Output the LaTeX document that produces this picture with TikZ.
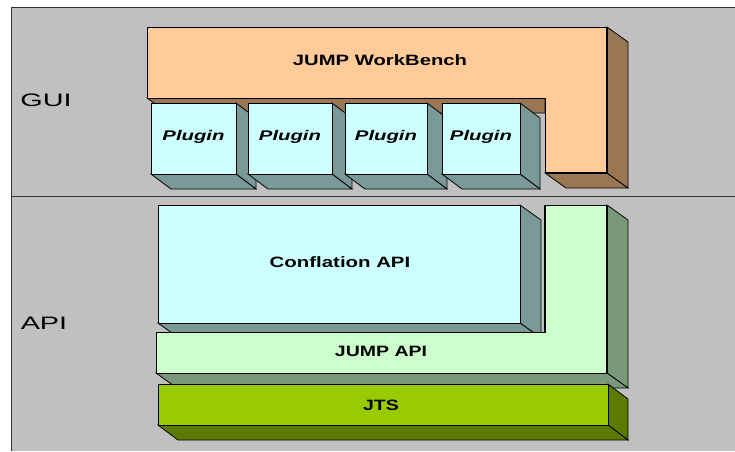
\documentclass[tikz,border=0pt]{standalone}
\usepackage{fontspec}
\usepackage{graphicx}
\newfontfamily\arialf{Liberation Sans}
\definecolor{bggray}{HTML}{C0C0C0}
\definecolor{wbfront}{HTML}{FFCC99}
\definecolor{wbside}{HTML}{997755}
\definecolor{cyfront}{HTML}{CCFFFF}
\definecolor{cyside}{HTML}{7A9999}
\definecolor{grfront}{HTML}{CCFFCC}
\definecolor{grside}{HTML}{7A997A}
\definecolor{jtsfront}{HTML}{99CC00}
\definecolor{jtsside}{HTML}{5C7A00}
\definecolor{edgegray}{HTML}{333333}
\tikzset{
  frontface/.style={line width=1pt, draw=black, line join=miter},
  sideface/.style={line width=0.8pt, draw=black, line join=miter},
  heavyedge/.style={line width=1.8pt, draw=black},
  boldlabel/.style={font=\arialf\bfseries\fontsize{15}{15}\selectfont, inner sep=0pt},
  pluginlabel/.style={font=\arialf\bfseries\itshape\fontsize{14}{14}\selectfont, inner sep=0pt},
  layerlabel/.style={font=\arialf\fontsize{18}{18}\selectfont, inner sep=0pt}
}
\begin{document}
\begin{tikzpicture}[x=1pt,y=-1pt]
\useasboundingbox (0,0) rectangle (735,451);
\fill[white] (0,0) rectangle (735,451);
% gray panel
\fill[bggray] (11,7) rectangle (735,451);
\draw[edgegray, line width=1pt] (11,451) -- (11,7) -- (735,7);
\draw[edgegray, line width=1pt] (11,196) -- (735,196);
\node[layerlabel] (gui) at (46,100) {\scalebox{1.6}[1]{GUI}};
\node[layerlabel] (api) at (44,323) {\scalebox{1.6}[1]{API}};

% JUMP WorkBench (L shape)
\filldraw[wbside, sideface] (147,98) -- (545,98) -- (545,113) -- (168,113) -- cycle;
\filldraw[wbside, sideface] (545,173) -- (607,173) -- (628,188) -- (566,188) -- cycle;
\filldraw[wbside, sideface] (607,27) -- (628,42) -- (628,188) -- (607,173) -- cycle;
\filldraw[wbfront, frontface] (147,27) -- (607,27) -- (607,173) -- (545,173) -- (545,98) -- (147,98) -- cycle;
\draw[heavyedge] (607,27) -- (607,173) -- (545,173);
\node[boldlabel] (wb) at (380,60) {\scalebox{1.35}[1]{JUMP WorkBench}};

% Plugins
\foreach \xa/\xb/\nm in {151/236/p1, 248/332/p2, 345/427/p3, 442/520/p4}{
  \filldraw[cyside, sideface] (\xb,103) -- (\xb+20,118) -- (\xb+20,189) -- (\xb,174) -- cycle;
  \filldraw[cyside, sideface] (\xa,174) -- (\xb,174) -- (\xb+20,189) -- (\xa+20,189) -- cycle;
  \filldraw[cyfront, frontface] (\xa,103) rectangle (\xb,174);
  \node[pluginlabel] (\nm) at ({(\xa+\xb)/2},137) {\scalebox{1.45}[1]{Plugin}};
}

% Conflation API
\filldraw[cyside, sideface] (520,205) -- (541,220) -- (541,338) -- (520,323) -- cycle;
\filldraw[cyside, sideface] (158,323) -- (520,323) -- (541,338) -- (179,338) -- cycle;
\filldraw[cyfront, frontface] (158,205) rectangle (520,323);
\node[boldlabel] (conf) at (340,262) {\scalebox{1.36}[1]{Conflation API}};

% JUMP API (L shape)
\filldraw[grside, sideface] (607,205) -- (628,220) -- (628,388) -- (607,373) -- cycle;
\filldraw[grside, sideface] (156,373) -- (607,373) -- (628,388) -- (177,388) -- cycle;
\filldraw[grfront, frontface] (156,332) -- (545,332) -- (545,205) -- (607,205) -- (607,373) -- (156,373) -- cycle;
\draw[heavyedge] (545,332) -- (545,205);
\draw[heavyedge] (607,205) -- (607,373);
\node[boldlabel] (japi) at (381,351) {\scalebox{1.3}[1]{JUMP API}};

% JTS
\filldraw[jtsside, sideface] (608,384) -- (628,399) -- (628,440) -- (608,425) -- cycle;
\filldraw[jtsside, sideface] (158,425) -- (608,425) -- (628,440) -- (178,440) -- cycle;
\filldraw[jtsfront, frontface] (158,384) rectangle (608,425);
\node[boldlabel] (jts) at (381,405) {\scalebox{1.3}[1]{JTS}};
\end{tikzpicture}
\end{document}
